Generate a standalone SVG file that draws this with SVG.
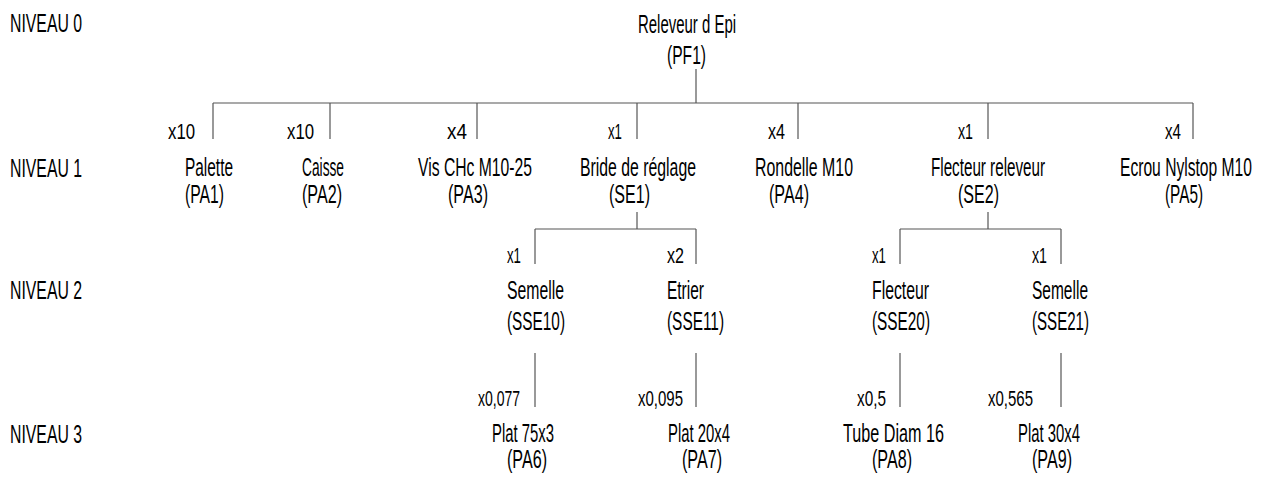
<svg xmlns="http://www.w3.org/2000/svg" width="1265" height="477" viewBox="0 0 1265 477">
<style>
text{font-family:"Liberation Sans",Arial,sans-serif;font-size:25px;fill:#000}
text.q{font-size:22px}
.c line{stroke:#555;stroke-width:1.2;fill:none}
</style>
<rect width="1265" height="477" fill="#fff"/>
<g id="levels">
<text transform="translate(10,32) scale(.63,1)" textLength="114.3" lengthAdjust="spacingAndGlyphs">NIVEAU 0</text>
<text transform="translate(10,177) scale(.63,1)" textLength="114.3" lengthAdjust="spacingAndGlyphs">NIVEAU 1</text>
<text transform="translate(10,299) scale(.63,1)" textLength="114.3" lengthAdjust="spacingAndGlyphs">NIVEAU 2</text>
<text transform="translate(10,443) scale(.63,1)" textLength="114.3" lengthAdjust="spacingAndGlyphs">NIVEAU 3</text>
</g>
<g class="c" id="connectors">
<line x1="696" y1="69" x2="696" y2="103"/>
<line x1="213" y1="103" x2="1193" y2="103"/>
<line x1="213" y1="103" x2="213" y2="139"/>
<line x1="330" y1="103" x2="330" y2="139"/>
<line x1="477" y1="103" x2="477" y2="139"/>
<line x1="637" y1="103" x2="637" y2="139"/>
<line x1="798" y1="103" x2="798" y2="139"/>
<line x1="988" y1="103" x2="988" y2="139"/>
<line x1="1193" y1="103" x2="1193" y2="139"/>
<line x1="637" y1="212" x2="637" y2="229"/>
<line x1="535" y1="229" x2="696" y2="229"/>
<line x1="535" y1="229" x2="535" y2="264"/>
<line x1="696" y1="229" x2="696" y2="264"/>
<line x1="988" y1="212" x2="988" y2="229"/>
<line x1="900" y1="229" x2="1061" y2="229"/>
<line x1="900" y1="229" x2="900" y2="264"/>
<line x1="1061" y1="229" x2="1061" y2="264"/>
<line x1="535" y1="353" x2="535" y2="407"/>
<line x1="696" y1="353" x2="696" y2="407"/>
<line x1="900" y1="353" x2="900" y2="407"/>
<line x1="1061" y1="353" x2="1061" y2="407"/>
</g>
<g id="PF1">
<text transform="translate(638,33) scale(.63,1)" textLength="155.6" lengthAdjust="spacingAndGlyphs">Releveur d Epi</text>
<text transform="translate(667,64) scale(.63,1)" textLength="61.9" lengthAdjust="spacingAndGlyphs">(PF1)</text>
</g>
<g id="PA1">
<text class="q" transform="translate(168,139) scale(.63,1)" textLength="42.9" lengthAdjust="spacingAndGlyphs">x10</text>
<text transform="translate(185,176) scale(.63,1)" textLength="76.2" lengthAdjust="spacingAndGlyphs">Palette</text>
<text transform="translate(185,203) scale(.63,1)" textLength="61.9" lengthAdjust="spacingAndGlyphs">(PA1)</text>
</g>
<g id="PA2">
<text class="q" transform="translate(287,139) scale(.63,1)" textLength="42.9" lengthAdjust="spacingAndGlyphs">x10</text>
<text transform="translate(302,176) scale(.63,1)" textLength="66.7" lengthAdjust="spacingAndGlyphs">Caisse</text>
<text transform="translate(302,203) scale(.63,1)" textLength="63.5" lengthAdjust="spacingAndGlyphs">(PA2)</text>
</g>
<g id="PA3">
<text class="q" transform="translate(447,139) scale(.63,1)" textLength="31.7" lengthAdjust="spacingAndGlyphs">x4</text>
<text transform="translate(418,176) scale(.63,1)" textLength="181" lengthAdjust="spacingAndGlyphs">Vis CHc M10-25</text>
<text transform="translate(448,203) scale(.63,1)" textLength="63.5" lengthAdjust="spacingAndGlyphs">(PA3)</text>
</g>
<g id="SE1">
<text class="q" transform="translate(608,139) scale(.63,1)" textLength="22.2" lengthAdjust="spacingAndGlyphs">x1</text>
<text transform="translate(580,176) scale(.63,1)" textLength="184.1" lengthAdjust="spacingAndGlyphs">Bride de réglage</text>
<text transform="translate(609,203) scale(.63,1)" textLength="65.1" lengthAdjust="spacingAndGlyphs">(SE1)</text>
</g>
<g id="PA4">
<text class="q" transform="translate(768,139) scale(.63,1)" textLength="27" lengthAdjust="spacingAndGlyphs">x4</text>
<text transform="translate(755,176) scale(.63,1)" textLength="155.6" lengthAdjust="spacingAndGlyphs">Rondelle M10</text>
<text transform="translate(769,203) scale(.63,1)" textLength="63.5" lengthAdjust="spacingAndGlyphs">(PA4)</text>
</g>
<g id="SE2">
<text class="q" transform="translate(958,139) scale(.63,1)" textLength="23.8" lengthAdjust="spacingAndGlyphs">x1</text>
<text transform="translate(931,176) scale(.63,1)" textLength="181" lengthAdjust="spacingAndGlyphs">Flecteur releveur</text>
<text transform="translate(958,203) scale(.63,1)" textLength="65.1" lengthAdjust="spacingAndGlyphs">(SE2)</text>
</g>
<g id="PA5">
<text class="q" transform="translate(1165,139) scale(.63,1)" textLength="25.4" lengthAdjust="spacingAndGlyphs">x4</text>
<text transform="translate(1120,176) scale(.63,1)" textLength="209.5" lengthAdjust="spacingAndGlyphs">Ecrou Nylstop M10</text>
<text transform="translate(1165,203) scale(.63,1)" textLength="60.3" lengthAdjust="spacingAndGlyphs">(PA5)</text>
</g>
<g id="SSE10">
<text class="q" transform="translate(507,263) scale(.63,1)" textLength="22.2" lengthAdjust="spacingAndGlyphs">x1</text>
<text transform="translate(507,299) scale(.63,1)" textLength="90.5" lengthAdjust="spacingAndGlyphs">Semelle</text>
<text transform="translate(507,330) scale(.63,1)" textLength="92.1" lengthAdjust="spacingAndGlyphs">(SSE10)</text>
</g>
<g id="SSE11">
<text class="q" transform="translate(667,263) scale(.63,1)" textLength="27" lengthAdjust="spacingAndGlyphs">x2</text>
<text transform="translate(667,299) scale(.63,1)" textLength="58.7" lengthAdjust="spacingAndGlyphs">Etrier</text>
<text transform="translate(667,330) scale(.63,1)" textLength="90.5" lengthAdjust="spacingAndGlyphs">(SSE11)</text>
</g>
<g id="SSE20">
<text class="q" transform="translate(872,263) scale(.63,1)" textLength="22.2" lengthAdjust="spacingAndGlyphs">x1</text>
<text transform="translate(872,299) scale(.63,1)" textLength="90.5" lengthAdjust="spacingAndGlyphs">Flecteur</text>
<text transform="translate(872,330) scale(.63,1)" textLength="92.1" lengthAdjust="spacingAndGlyphs">(SSE20)</text>
</g>
<g id="SSE21">
<text class="q" transform="translate(1032,263) scale(.63,1)" textLength="23.8" lengthAdjust="spacingAndGlyphs">x1</text>
<text transform="translate(1032,299) scale(.63,1)" textLength="88.9" lengthAdjust="spacingAndGlyphs">Semelle</text>
<text transform="translate(1032,330) scale(.63,1)" textLength="90.5" lengthAdjust="spacingAndGlyphs">(SSE21)</text>
</g>
<g id="PA6">
<text class="q" transform="translate(478,406) scale(.63,1)" textLength="66.7" lengthAdjust="spacingAndGlyphs">x0,077</text>
<text transform="translate(492,442) scale(.63,1)" textLength="98.4" lengthAdjust="spacingAndGlyphs">Plat 75x3</text>
<text transform="translate(507,468) scale(.63,1)" textLength="63.5" lengthAdjust="spacingAndGlyphs">(PA6)</text>
</g>
<g id="PA7">
<text class="q" transform="translate(638,406) scale(.63,1)" textLength="71.4" lengthAdjust="spacingAndGlyphs">x0,095</text>
<text transform="translate(668,442) scale(.63,1)" textLength="98.4" lengthAdjust="spacingAndGlyphs">Plat 20x4</text>
<text transform="translate(682,468) scale(.63,1)" textLength="63.5" lengthAdjust="spacingAndGlyphs">(PA7)</text>
</g>
<g id="PA8">
<text class="q" transform="translate(857,406) scale(.63,1)" textLength="46" lengthAdjust="spacingAndGlyphs">x0,5</text>
<text transform="translate(843,442) scale(.63,1)" textLength="160.3" lengthAdjust="spacingAndGlyphs">Tube Diam 16</text>
<text transform="translate(872,468) scale(.63,1)" textLength="63.5" lengthAdjust="spacingAndGlyphs">(PA8)</text>
</g>
<g id="PA9">
<text class="q" transform="translate(988,406) scale(.63,1)" textLength="71.4" lengthAdjust="spacingAndGlyphs">x0,565</text>
<text transform="translate(1018,442) scale(.63,1)" textLength="98.4" lengthAdjust="spacingAndGlyphs">Plat 30x4</text>
<text transform="translate(1032,468) scale(.63,1)" textLength="63.5" lengthAdjust="spacingAndGlyphs">(PA9)</text>
</g>
</svg>
